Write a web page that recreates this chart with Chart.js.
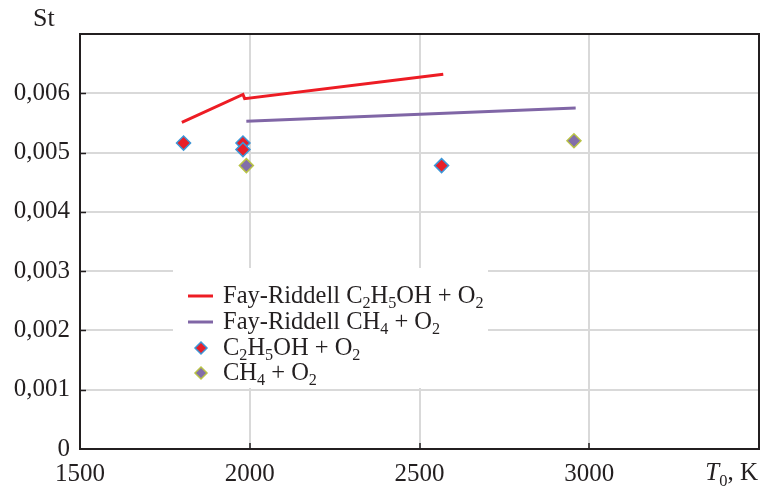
<!DOCTYPE html>
<html>
<head>
<meta charset="utf-8">
<script src="https://cdn.jsdelivr.net/npm/chart.js@4"></script>
<style>
  html, body { margin: 0; padding: 0; background: #fff; }
</style>
</head>
<body>
<canvas id="st_chart" width="762" height="487"></canvas>
<script>
// values
const fayEthanolT = [1800, 1980, 1985, 2570];
const fayEthanolSt = [0.00551, 0.00598, 0.00591, 0.00632];
const fayMethaneT = [1990, 2960];
const fayMethaneSt = [0.00553, 0.00575];
const expEthanolT = [1805, 1980, 1980, 2565];
const expEthanolSt = [0.00516, 0.00516, 0.00505, 0.00478];
const expMethaneT = [1990, 2955];
const expMethaneSt = [0.00478, 0.0052];
const seriesLabels = [
  "Fay-Riddell C₂H₅OH + O₂",
  "Fay-Riddell CH₄ + O₂",
  "C₂H₅OH + O₂",
  "CH₄ + O₂",
];
const xMin = 1500, xMax = 3500, xStep = 500;
const yMin = 0, yMax = 0.007, yStep = 0.001;
const yTitle = "St";
const xTitle = ["T", "₀", ", K"];

const ink = "#231f20";
const serif = "'Liberation Serif', 'Times New Roman', serif";
Chart.defaults.font.family = serif;
Chart.defaults.color = ink;

function toPoints(xs, ys) {
  return xs.map((x, i) => ({ x: x, y: ys[i] }));
}

const subMap = { "₀": "0", "₁": "1", "₂": "2", "₃": "3", "₄": "4", "₅": "5", "₆": "6", "₇": "7", "₈": "8", "₉": "9" };

// split a label into normal / subscript runs
function segments(text) {
  let out = [];
  for (const ch of text) {
    const sub = ch in subMap;
    const c = sub ? subMap[ch] : ch;
    if (out.length && out[out.length - 1].sub === sub) out[out.length - 1].t += c;
    else out.push({ t: c, sub: sub });
  }
  return out;
}

function drawRich(ctx, segs, x, y, size, align) {
  const fontFor = (s) => (s.italic ? "italic " : "") + (s.sub ? size * 0.66 : size) + "px " + serif;
  let total = 0;
  segs.forEach((s) => { ctx.font = fontFor(s); total += ctx.measureText(s.t).width; });
  let cx = align === "right" ? x - total : x;
  ctx.textAlign = "left";
  ctx.textBaseline = "alphabetic";
  segs.forEach((s) => {
    ctx.font = fontFor(s);
    ctx.fillText(s.t, cx, s.sub ? y + size * 0.22 : y);
    cx += ctx.measureText(s.t).width;
  });
}

const decorPlugin = {
  id: "decor",
  afterDraw(chart) {
    const ctx = chart.ctx;
    const ca = chart.chartArea;
    const xs = chart.scales.x, ys = chart.scales.y;
    ctx.save();

    // legend box inside the plot
    const bx = ca.left + 93, by = ca.top + 234;
    ctx.fillStyle = "#fff";
    ctx.fillRect(bx, by, 315, 120);
    const rows = [296, 322, 348, 373];
    chart.data.datasets.forEach((ds, i) => {
      const ry = rows[i];
      if (ds.showLine) {
        ctx.strokeStyle = ds.borderColor;
        ctx.lineWidth = 3;
        ctx.beginPath();
        ctx.moveTo(bx + 15, ry);
        ctx.lineTo(bx + 40, ry);
        ctx.stroke();
      } else {
        ctx.fillStyle = ds.backgroundColor;
        ctx.strokeStyle = ds.borderColor;
        ctx.lineWidth = ds.borderWidth;
        Chart.helpers.drawPoint(ctx, { pointStyle: "rectRot", radius: 6, borderWidth: ds.borderWidth }, bx + 28, ry);
      }
      ctx.fillStyle = ink;
      drawRich(ctx, segments(ds.label), bx + 50, ry + 7, 24.5);
    });

    // frame
    ctx.strokeStyle = ink;
    ctx.lineWidth = 2;
    ctx.strokeRect(ca.left, ca.top, ca.right - ca.left, ca.bottom - ca.top);

    // inner tick marks
    ctx.beginPath();
    for (let v = yStep; v < yMax - yStep / 2; v += yStep) {
      const py = Math.round(ys.getPixelForValue(v)) + 0.5;
      ctx.moveTo(ca.left, py);
      ctx.lineTo(ca.left + 6, py);
    }
    for (let v = xMin + xStep; v < xMax; v += xStep) {
      const px = Math.round(xs.getPixelForValue(v));
      ctx.moveTo(px, ca.bottom);
      ctx.lineTo(px, ca.bottom - 6);
    }
    ctx.lineWidth = 1.5;
    ctx.stroke();

    // axis titles
    ctx.fillStyle = ink;
    drawRich(ctx, [{ t: yTitle }], 33, 26, 26);
    drawRich(ctx, [{ t: xTitle[0], italic: true }, { t: subMap[xTitle[1]], sub: true }, { t: xTitle[2] }],
      758, 480, 25, "right");
    ctx.restore();
  },
};

const ctx = document.getElementById("st_chart");

const stChart = new Chart(ctx, {
  type: "scatter",
  data: {
    datasets: [
      {
        label: seriesLabels[0],
        data: toPoints(fayEthanolT, fayEthanolSt),
        showLine: true,
        pointRadius: 0,
        borderWidth: 3,
        borderColor: "rgb(237, 28, 36)",
        backgroundColor: "rgb(237, 28, 36)",
      },
      {
        label: seriesLabels[1],
        data: toPoints(fayMethaneT, fayMethaneSt),
        showLine: true,
        pointRadius: 0,
        borderWidth: 3,
        borderColor: "rgb(128, 102, 166)",
        backgroundColor: "rgb(128, 102, 166)",
      },
      {
        label: seriesLabels[2],
        data: toPoints(expEthanolT, expEthanolSt),
        pointStyle: "rectRot",
        pointRadius: 7,
        pointHoverRadius: 7,
        borderWidth: 1.5,
        borderColor: "rgb(60, 150, 215)",
        backgroundColor: "rgb(232, 30, 40)",
      },
      {
        label: seriesLabels[3],
        data: toPoints(expMethaneT, expMethaneSt),
        pointStyle: "rectRot",
        pointRadius: 7,
        pointHoverRadius: 7,
        borderWidth: 1.5,
        borderColor: "rgb(185, 195, 70)",
        backgroundColor: "rgb(130, 110, 170)",
      },
    ],
  },
  options: {
    responsive: false,
    animation: false,
    layout: { autoPadding: false, padding: { top: 34, right: 3, left: 0, bottom: 0 } },
    plugins: {
      legend: { display: false },
      tooltip: { enabled: false },
    },
    scales: {
      x: {
        type: "linear",
        min: xMin,
        max: xMax,
        afterFit: (s) => {
          s.height = 38;
          s.paddingLeft = 0;
          s.paddingRight = 0;
        },
        grid: { color: "#d9d9d9", lineWidth: 2, drawTicks: false },
        border: { display: false },
        ticks: {
          stepSize: xStep,
          padding: 10,
          color: ink,
          font: { size: 25 },
          maxRotation: 0,
          callback: (v) => (v >= xMax ? "" : String(v)),
        },
      },
      y: {
        min: yMin,
        max: yMax,
        afterFit: (s) => {
          s.width = 80;
          s.paddingTop = 0;
          s.paddingBottom = 0;
        },
        grid: { color: "#d9d9d9", lineWidth: 2, drawTicks: false },
        border: { display: false },
        ticks: {
          stepSize: yStep,
          padding: 10,
          color: ink,
          font: { size: 25 },
          callback: (v) => {
            if (v > yMax - yStep / 2) return "";
            if (Math.abs(v) < 1e-9) return "0";
            return v.toFixed(3).replace(".", ",");
          },
        },
      },
    },
  },
  plugins: [decorPlugin],
});
</script>
</body>
</html>
